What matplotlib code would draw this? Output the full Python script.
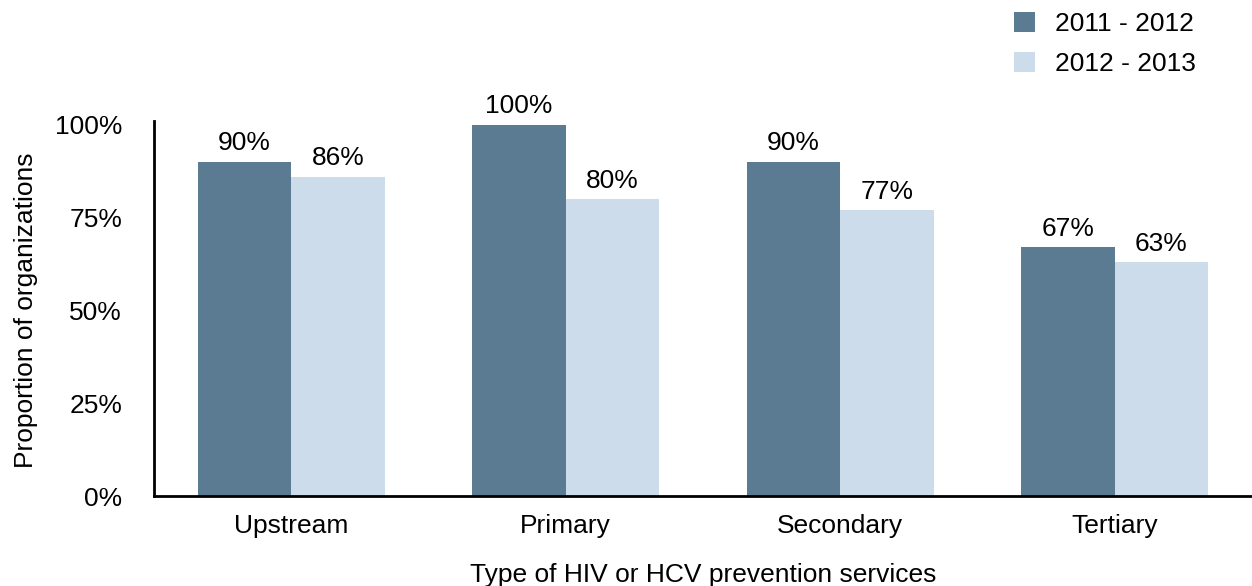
import matplotlib
matplotlib.use("Agg")
import matplotlib.pyplot as plt
import numpy as np

plt.rcParams['font.family'] = ['Liberation Sans', 'DejaVu Sans']

categories = ["Upstream", "Primary", "Secondary", "Tertiary"]
series_names = ["2011 - 2012", "2012 - 2013"]
values_2011_2012 = [90, 100, 90, 67]
values_2012_2013 = [86, 80, 77, 63]
y_ticks = [0, 25, 50, 75, 100]
y_tick_labels = ["0%", "25%", "50%", "75%", "100%"]

dark = "#5a7b92"
light = "#cddcea"
fs = 19

fig = plt.figure(figsize=(12.52, 5.86), dpi=100)
ax = fig.add_axes([154 / 1252, 1 - 496 / 586, 1 - 154 / 1252, (496 - 125) / 586])

x = np.arange(len(categories))
w = 0.34
b1 = ax.bar(x - w / 2, values_2011_2012, w, color=dark, label=series_names[0])
b2 = ax.bar(x + w / 2, values_2012_2013, w, color=light, label=series_names[1])

for bars, vals in ((b1, values_2011_2012), (b2, values_2012_2013)):
    for rect, v in zip(bars, vals):
        ax.text(rect.get_x() + rect.get_width() / 2, v + 1.8, f"{v}%",
                ha="center", va="bottom", fontsize=fs)

ax.set_xlim(-0.5, 3.5)
ax.set_ylim(0, 100)
ax.set_yticks(y_ticks)
ax.set_yticklabels(y_tick_labels, fontsize=fs)
ax.set_xticks(x)
ax.set_xticklabels(categories, fontsize=fs)
ax.tick_params(length=0)
ax.tick_params(axis="x", pad=13)
ax.tick_params(axis="y", pad=23)
for s in ("top", "right"):
    ax.spines[s].set_visible(False)
for s in ("left", "bottom"):
    ax.spines[s].set_linewidth(2)
ax.spines["left"].set_bounds(0, 101)

ax.set_xlabel("Type of HIV or HCV prevention services", fontsize=fs, labelpad=18)
ax.set_ylabel("Proportion of organizations", fontsize=fs)
ax.yaxis.set_label_coords(-0.106, 0.5)

fig.legend(handles=[b1, b2], labels=series_names, loc="upper left",
           bbox_to_anchor=(990 / 1252, 1 + 12 / 586), frameon=False, fontsize=19,
           handlelength=0.8, handleheight=0.8, handletextpad=0.75, labelspacing=0.6)

fig.savefig("out.png", dpi=100)
